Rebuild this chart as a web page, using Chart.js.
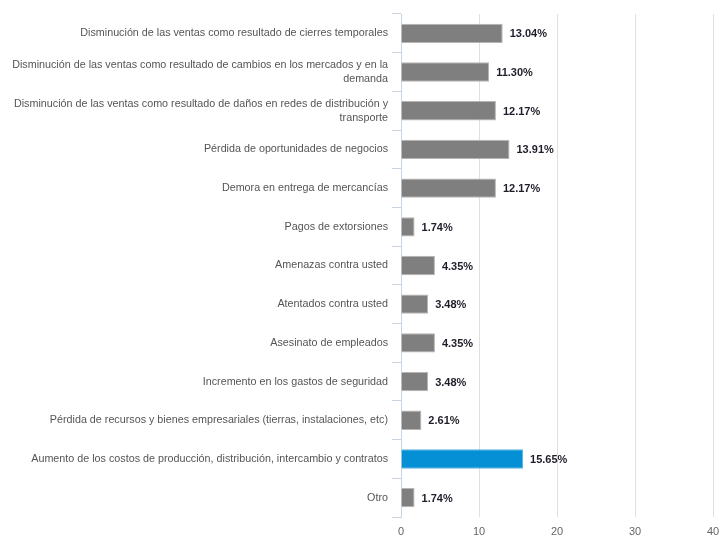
<!DOCTYPE html>
<html>
<head>
<meta charset="utf-8">
<script src="https://cdn.jsdelivr.net/npm/chart.js@4.4.1/dist/chart.umd.min.js"></script>
<style>
  html, body { margin: 0; padding: 0; background: #fff; }
  #wrap { width: 721px; height: 538px; }
</style>
</head>
<body>
<div id="wrap"><canvas id="chartAfectaciones"></canvas></div>
<script>
// Categorías (multilínea donde la etiqueta es larga)
const categorias = [
    'Disminución de las ventas como resultado de cierres temporales',
    ['Disminución de las ventas como resultado de cambios en los mercados y en la', 'demanda'],
    ['Disminución de las ventas como resultado de daños en redes de distribución y', 'transporte'],
    'Pérdida de oportunidades de negocios',
    'Demora en entrega de mercancías',
    'Pagos de extorsiones',
    'Amenazas contra usted',
    'Atentados contra usted',
    'Asesinato de empleados',
    'Incremento en los gastos de seguridad',
    'Pérdida de recursos y bienes empresariales (tierras, instalaciones, etc)',
    'Aumento de los costos de producción, distribución, intercambio y contratos',
    'Otro'
];
const porcentajes = [13.04, 11.30, 12.17, 13.91, 12.17, 1.74, 4.35, 3.48, 4.35, 3.48, 2.61, 15.65, 1.74];
const destacado = 11; // índice de la barra resaltada
const ticksX = [0, 10, 20, 30, 40];

const GRIS = '#7f7f7f';
const AZUL = '#0590d6';
const FUENTE = "'Liberation Sans', Arial, sans-serif";

// Etiquetas de valor al final de cada barra
const etiquetasValor = {
    id: 'etiquetasValor',
    afterDatasetsDraw(chart) {
        const ctx = chart.ctx;
        const meta = chart.getDatasetMeta(0);
        ctx.save();
        ctx.font = 'bold 11px ' + FUENTE;
        ctx.fillStyle = '#1e1e2a';
        ctx.textAlign = 'left';
        ctx.textBaseline = 'middle';
        meta.data.forEach((bar, i) => {
            ctx.fillText(porcentajes[i].toFixed(2) + '%', bar.x + 7, bar.y + 1);
        });
        ctx.restore();
    }
};

new Chart(document.getElementById('chartAfectaciones'), {
    type: 'bar',
    data: {
        labels: categorias,
        datasets: [{
            data: porcentajes,
            backgroundColor: porcentajes.map((v, i) => i === destacado ? AZUL : GRIS),
            borderColor: porcentajes.map((v, i) => i === destacado ? '#5ab4e6' : '#b5b5b5'),
            borderWidth: 1,
            borderSkipped: 'start',
            categoryPercentage: 1,
            barPercentage: 0.5
        }]
    },
    options: {
        indexAxis: 'y',
        responsive: true,
        maintainAspectRatio: false,
        animation: false,
        layout: { padding: { top: 14, right: 8, bottom: 0, left: 0 } },
        plugins: {
            legend: { display: false },
            tooltip: { enabled: false }
        },
        scales: {
            x: {
                min: 0,
                max: 40,
                afterBuildTicks: axis => { axis.ticks = ticksX.map(v => ({ value: v })); },
                afterFit: axis => {
                    axis.height = 21;
                    axis.paddingLeft = 0;
                    axis.paddingRight = 0;
                },
                grid: { color: '#e0e0e0', drawTicks: false },
                border: { display: false },
                ticks: {
                    color: '#666',
                    padding: 8,
                    font: { family: FUENTE, size: 11 }
                }
            },
            y: {
                afterFit: axis => { axis.width = 401; },
                grid: { drawOnChartArea: false, color: '#c8d4e2', tickLength: 9 },
                border: { display: true, color: '#c8d4e2' },
                ticks: {
                    color: '#555',
                    padding: 4,
                    font: { family: FUENTE, size: 10.75, lineHeight: 1.3 }
                }
            }
        }
    },
    plugins: [etiquetasValor]
});
</script>
</body>
</html>
